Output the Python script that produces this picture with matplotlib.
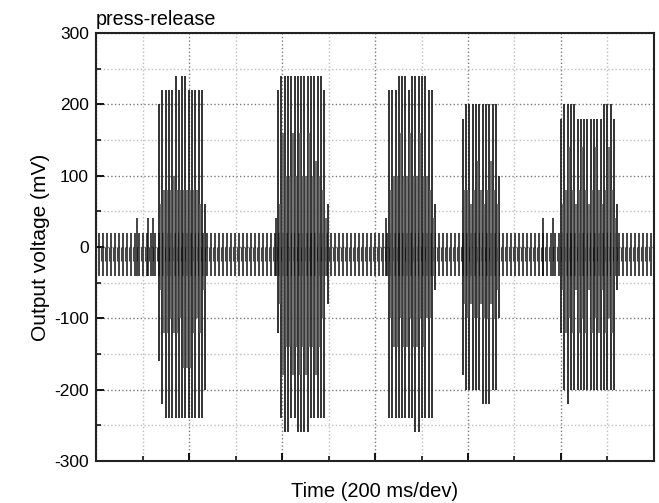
import numpy as np
import matplotlib.pyplot as plt
from matplotlib.ticker import MultipleLocator, NullFormatter

plt.rcParams['font.family'] = ['Liberation Sans', 'DejaVu Sans']
plt.rcParams['axes.unicode_minus'] = False

# background switching noise (ms, mV)
noise_start = 13.0
noise_period = 17.2
noise_top = 20
noise_bottom = -40
noise_inner_top = 0
noise_inner_bottom = -20
# occasional larger noise spikes
extra_t = [176, 224, 245, 774, 1247, 1922, 1965]
extra_v = [40, 40, 40, 40, 40, 40, 40]

# press-release bursts: first spike time (ms) and spike spacing (ms)
burst_start = [271, 783, 1260, 1578, 2000]
spike_period = 14.2

b1_top = [200, 220, 220, 220, 220, 240, 220, 240, 240, 220, 220, 220, 220, 220, 60]
b1_bot = [-160, -220, -240, -240, -240, -240, -240, -240, -240, -240, -240, -240, -240, -240, -200]
b1_sec_top = [60, 80, 80, 80, 100, 80, 80, 80, 80, 80, 80, 80, 60, 20]
b1_sec_bot = [-60, -120, -120, -100, -120, -120, -100, -170, -170, -170, -120, -100, -120, -60]

b2_top = [220, 240, 240, 240, 240, 240, 240, 240, 240, 240, 240, 240, 240, 240, 220, 60]
b2_bot = [-120, -240, -260, -260, -240, -240, -260, -260, -260, -260, -240, -240, -240, -240, -240, -80]
b2_sec_top = [60, 160, 100, 100, 160, 100, 160, 100, 100, 160, 100, 120, 100, 80, 40]
b2_sec_bot = [-80, -180, -140, -140, -180, -140, -180, -140, -180, -140, -140, -180, -140, -100, -40]

b3_top = [220, 220, 220, 240, 240, 240, 220, 240, 240, 240, 240, 240, 220, 220, 60]
b3_bot = [-240, -240, -240, -240, -240, -240, -240, -240, -260, -260, -240, -240, -240, -240, -60]
b3_sec_top = [80, 100, 100, 160, 100, 100, 160, 100, 100, 160, 100, 100, 80, 40]
b3_sec_bot = [-100, -140, -140, -100, -140, -140, -100, -140, -140, -100, -140, -100, -100, -40]

b4_top = [180, 200, 200, 200, 200, 200, 200, 200, 200, 200, 200, 100]
b4_bot = [-180, -200, -200, -200, -200, -200, -220, -220, -220, -200, -200, -100]
b4_sec_top = [80, 80, 60, 80, 120, 80, 60, 80, 120, 80, 60]
b4_sec_bot = [-80, -100, -80, -100, -100, -80, -100, -100, -80, -100, -60]

b5_top = [180, 200, 200, 200, 200, 180, 180, 180, 180, 180, 180, 180, 180, 200, 200, 200, 180, 60]
b5_bot = [-120, -200, -220, -200, -200, -200, -200, -200, -200, -200, -200, -200, -200, -200, -200, -200, -200, -60]
b5_sec_top = [60, 80, 140, 80, 60, 80, 140, 80, 60, 80, 140, 80, 60, 80, 140, 80, 40]
b5_sec_bot = [-60, -120, -100, -120, -60, -120, -100, -120, -60, -120, -100, -120, -60, -120, -100, -120, -40]

bursts = [
    (b1_top, b1_bot, b1_sec_top, b1_sec_bot),
    (b2_top, b2_bot, b2_sec_top, b2_sec_bot),
    (b3_top, b3_bot, b3_sec_top, b3_sec_bot),
    (b4_top, b4_bot, b4_sec_top, b4_sec_bot),
    (b5_top, b5_bot, b5_sec_top, b5_sec_bot),
]

fig = plt.figure(figsize=(6.59, 5.03), dpi=100)
ax = fig.add_axes([0.1457, 0.0835, 0.8467, 0.8509])

lc = '#111111'

# noise floor
t_noise = np.arange(noise_start, 2400, noise_period)
ax.vlines(t_noise, noise_bottom, noise_top, color=lc, lw=1.1)
ax.vlines(t_noise + noise_period / 2, noise_inner_bottom, noise_inner_top, color='#444444', lw=0.8)
ax.vlines(extra_t, noise_bottom, extra_v, color=lc, lw=1.1)

# bursts
for t0, (top, bot, stop, sbot) in zip(burst_start, bursts):
    t = t0 + spike_period * np.arange(len(top))
    ax.vlines(t, bot, top, color=lc, lw=1.2)
    ts = t[:-1] + spike_period / 2
    ax.vlines(ts, sbot, stop, color='#5a5a5a', lw=1.2)

ax.set_xlim(0, 2400)
ax.set_ylim(-300, 300)
ax.xaxis.set_major_locator(MultipleLocator(400))
ax.xaxis.set_minor_locator(MultipleLocator(200))
ax.xaxis.set_major_formatter(NullFormatter())
ax.yaxis.set_major_locator(MultipleLocator(100))
ax.yaxis.set_minor_locator(MultipleLocator(50))

ax.grid(which='major', ls=':', color='#7a7a7a', lw=1.0)
ax.grid(which='minor', ls=':', color='#bdbdbd', lw=1.0)
ax.set_axisbelow(True)

ax.tick_params(which='major', direction='in', length=6, width=1.3, top=False, right=False,
               labelsize=12.5, pad=5)
ax.tick_params(which='minor', direction='in', length=3.5, width=1.1, top=False, right=False)
for s in ax.spines.values():
    s.set_linewidth(1.5)
    s.set_color('#222222')

ax.set_ylabel('Output voltage (mV)', fontsize=15, labelpad=3)
ax.set_xlabel('Time (200 ms/dev)', fontsize=14.5, labelpad=10)
ax.set_title('press-release', loc='left', fontsize=14.2, pad=6)

plt.savefig('out.png', dpi=100)
